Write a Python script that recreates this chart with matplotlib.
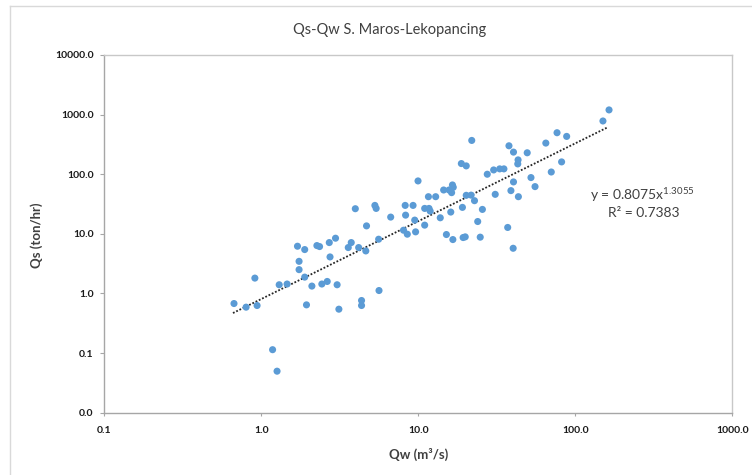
import numpy as np
import matplotlib
matplotlib.use('Agg')
import matplotlib.pyplot as plt
from matplotlib.ticker import FixedLocator, FuncFormatter, NullLocator
from matplotlib.lines import Line2D

plt.rcParams['font.family'] = ['Lato', 'DejaVu Sans']
plt.rcParams['mathtext.fontset'] = 'custom'
plt.rcParams['mathtext.rm'] = 'Lato'

# Discharge Qw (m3/s) and sediment load Qs (ton/hr)
qw = [0.67, 0.80, 0.94, 0.91, 1.18, 1.26, 1.30, 1.46, 1.70, 1.74,
      1.74, 1.89, 1.89, 1.94, 2.10, 2.26, 2.35, 2.43, 2.63, 2.71,
      2.74, 2.97, 3.04, 3.12, 3.58, 3.74, 3.97, 4.17, 4.35, 4.35,
      4.63, 4.68, 5.29, 5.39, 5.59, 5.62, 6.67, 8.25, 8.30, 8.05,
      8.51, 9.26, 9.49, 9.61, 9.96, 10.98, 10.98, 11.6, 11.7, 11.9,
      12.9, 13.8, 14.5, 15.1, 15.7, 16.1, 16.3, 16.5, 16.7, 16.6,
      18.8, 19.1, 19.3, 19.9, 20.2, 20.2, 21.9, 21.7, 22.8, 23.9,
      24.8, 25.6, 27.5, 30.2, 30.9, 33.0, 35.1, 37.1, 37.8, 38.9,
      40.4, 40.4, 40.2, 43.2, 43.0, 43.4, 49.4, 52.2, 55.4, 64.9,
      70.3, 76.5, 81.8, 88.1, 150, 164]
qs = [0.678, 0.589, 0.628, 1.81, 0.114, 0.0497, 1.40, 1.44, 6.20, 3.46,
      2.51, 5.45, 1.88, 0.644, 1.33, 6.36, 6.12, 1.44, 1.59, 7.14,
      4.10, 8.45, 1.40, 0.545, 5.89, 7.14, 26.4, 5.89, 0.762, 0.628,
      5.17, 13.6, 30.0, 26.7, 8.13, 1.12, 19.1, 30.0, 20.6, 11.5,
      9.87, 30.0, 17.0, 10.8, 77.2, 26.7, 14.0, 42.0, 26.7, 24.1,
      42.0, 18.6, 54.4, 9.74, 54.4, 23.2, 49.1, 66.1, 60.4, 8.02,
      151, 27.8, 8.67, 8.90, 138, 44.3, 369, 44.6, 36.0, 16.1,
      8.8, 25.7, 100, 118, 46.0, 123, 123, 12.8, 300, 53.1,
      235, 74.3, 5.73, 174, 149, 42.0, 229, 87.9, 62.0, 333,
      109, 497, 161, 431, 782, 1199]

# power trendline shown on the chart
coef_a = 0.8075
coef_b = 1.3055
r2 = 0.7383
trend_range = [0.66, 161]

x_ticks = [0.1, 1, 10, 100, 1000]
y_ticks = [0.01, 0.1, 1, 10, 100, 1000, 10000]

W, H = 752, 475
fig = plt.figure(figsize=(W / 100, H / 100), dpi=100)
ax = fig.add_axes([104.3 / W, 62.3 / H, 628 / W, 357.7 / H])

ax.scatter(qw, qs, s=26, color='#5b9bd5', edgecolors='none', zorder=3)

xt = np.logspace(np.log10(trend_range[0]), np.log10(trend_range[1]), 100)
ax.plot(xt, coef_a * xt ** coef_b, color='#262626', lw=1.3,
        linestyle=(0, (1, 1)), zorder=2)

ax.set_xscale('log')
ax.set_yscale('log')
ax.set_xlim(0.1, 1000)
ax.set_ylim(0.01, 10000)
ax.xaxis.set_major_locator(FixedLocator(x_ticks))
ax.yaxis.set_major_locator(FixedLocator(y_ticks))
ax.xaxis.set_minor_locator(NullLocator())
ax.yaxis.set_minor_locator(NullLocator())
fmt = FuncFormatter(lambda v, p: f'{v:.1f}')
ax.xaxis.set_major_formatter(fmt)
ax.yaxis.set_major_formatter(fmt)

for side in ['top', 'right']:
    ax.spines[side].set_color('#c8c8c8')
    ax.spines[side].set_linewidth(1.0)
for side in ['left', 'bottom']:
    ax.spines[side].set_color('#a6a6a6')
    ax.spines[side].set_linewidth(1.0)
ax.tick_params(axis='y', length=2.6, width=0.8, color='#a6a6a6', pad=5,
               labelsize=7.5, labelcolor='#1a1a1a')
ax.tick_params(axis='x', length=2.5, width=0.8, color='#a6a6a6', pad=7,
               labelsize=7.5, labelcolor='#1a1a1a')
for lab in ax.get_xticklabels() + ax.get_yticklabels():
    lab.set_fontweight('bold')

# texts placed in pixel terms
fig.text(390 / W, 1 - 30 / H, 'Qs-Qw S. Maros-Lekopancing', ha='center',
         va='center', fontsize=10.5, color='#404040')
fig.text(419 / W, 1 - 454 / H, 'Qw (m³/s)', ha='center', va='center',
         fontsize=9.5, fontweight='bold', color='#404040')
fig.text(37 / W, 1 - 235 / H, 'Qs (ton/hr)', ha='center', va='center',
         rotation=90, fontsize=9.5, fontweight='bold', color='#404040')
fig.text(642 / W, 1 - 195 / H, f'y = {coef_a:.4f}x$^{{{coef_b:.4f}}}$',
         ha='center', va='center', fontsize=10, color='#404040')
fig.text(644 / W, 1 - 213 / H, f'R² = {r2:.4f}', ha='center',
         va='center', fontsize=10, color='#404040')

# outer chart-area border
fig.add_artist(Line2D([10 / W, 10 / W], [0, 1 - 6 / H],
                      transform=fig.transFigure, color='#d9d9d9', lw=1))
fig.add_artist(Line2D([10 / W, 1], [1 - 6 / H, 1 - 6 / H],
                      transform=fig.transFigure, color='#d9d9d9', lw=1))

fig.savefig('out.png', dpi=100)
